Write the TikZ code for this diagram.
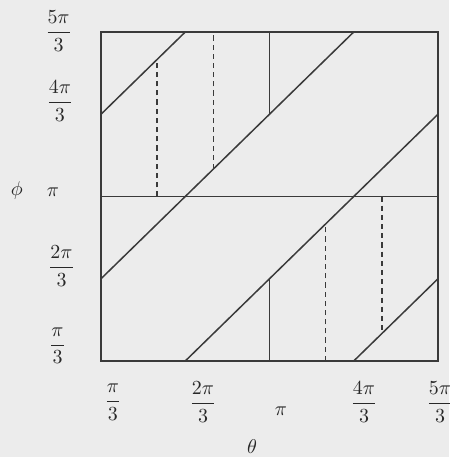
\documentclass[tikz,border=0pt]{standalone}
\usepackage{amsmath,amssymb}
\usepackage{xcolor}
\usepackage{tikz}
\usetikzlibrary{calc,positioning}
\definecolor{scanGray}{RGB}{236,236,236}
\definecolor{inkGray}{RGB}{58,58,58}
\definecolor{inkText}{RGB}{40,40,40}

\begin{document}
\begin{tikzpicture}[x=1.483cm,y=1.448cm,
  cell/.style={inkGray, line width=0.75pt},
  fold/.style={inkGray, line width=0.75pt, dash pattern=on 2.6pt off 2pt},
  tick/.style={text=inkText, inner sep=0pt}]
\fill[scanGray] (-0.199,-0.167) rectangle (5.131,5.389);
\useasboundingbox (-0.199,-0.167) rectangle (5.131,5.389);

% square and the two halves
\draw[cell] (1,1) rectangle (5,5);
\draw[cell] (1,3)--(5,3);
\draw[cell] (3,4)--(3,5);
\draw[cell] (3,1)--(3,2);

% diagonals
\draw[cell] (1,4)--(2,5);
\draw[cell] (1,2)--(4,5);
\draw[cell] (2,1)--(5,4);
\draw[cell] (4,1)--(5,2);

% dashed cuts
\draw[fold] (5/3,3)--(5/3,14/3);
\draw[fold] (7/3,10/3)--(7/3,5);
\draw[fold] (11/3,1)--(11/3,8/3);
\draw[fold] (13/3,3)--(13/3,4/3);

% theta axis
\node[tick] (t1) at (1.142,0.50) {$\dfrac{\pi}{3}$};
\node[tick] (t2) at (2.211,0.50) {$\dfrac{2\pi}{3}$};
\node[tick] (t3) at (3.136,0.392) {$\pi$};
\node[tick] (t4) at (4.122,0.50) {$\dfrac{4\pi}{3}$};
\node[tick] (t5) at (5.024,0.50) {$\dfrac{5\pi}{3}$};
\node[tick] (theta) at (2.792,-0.046) {$\theta$};

% phi axis
\node[tick] (p1) at (0.484,1.182) {$\dfrac{\pi}{3}$};
\node[tick] (p2) at (0.531,2.155) {$\dfrac{2\pi}{3}$};
\node[tick] (p3) at (0.430,3.055) {$\pi$};
\node[tick] (p4) at (0.513,4.161) {$\dfrac{4\pi}{3}$};
\node[tick] (p5) at (0.496,5.012) {$\dfrac{5\pi}{3}$};
\node[tick] (phi) at (0.0,3.067) {$\phi$};
\end{tikzpicture}
\end{document}
